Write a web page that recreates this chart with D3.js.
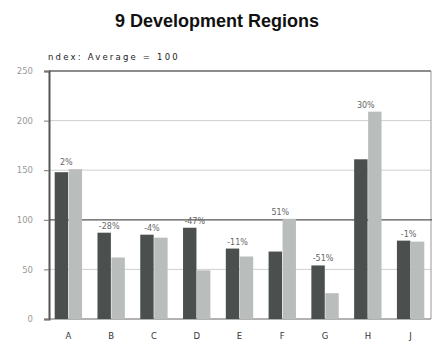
<!DOCTYPE html>
<html><head><meta charset="utf-8">
<script src="https://cdn.jsdelivr.net/npm/d3@7"></script>
<style>body{margin:0;background:#fff}svg{display:block}</style>
</head><body>
<script>
const categories = ["A","B","C","D","E","F","G","H","J"];
const seriesBefore = [148, 87, 85, 92, 71, 68, 54, 161, 79];
const seriesAfter  = [151, 62, 82, 49, 63, 101, 26, 209, 78];
const changeLabels = ["2%","-28%","-4%","-47%","-11%","51%","-51%","30%","-1%"];
const yTicks = [0, 50, 100, 150, 200, 250];
const title = "9 Development Regions";
const subtitle = "ndex:  Average = 100";
const averageValue = 100;

const W = 432, H = 341;
const svg = d3.select("body").append("svg").attr("width", W).attr("height", H);

const y = d3.scaleLinear().domain([0, 250]).range([319, 71]);
const x = d3.scaleBand().domain(categories).range([47, 432]).paddingInner(0.36).paddingOuter(0.18);
const xs = d3.scaleBand().domain([0, 1]).range([0, x.bandwidth()]).paddingInner(0.04);

svg.append("text").attr("x", 217).attr("y", 27).attr("text-anchor", "middle")
  .attr("font-family", "Liberation Sans, Arial, sans-serif").attr("font-weight", "bold")
  .attr("font-size", 18).attr("fill", "#111").text(title);

svg.append("text").attr("x", 48).attr("y", 60)
  .attr("font-family", "DejaVu Sans, sans-serif").attr("font-size", 8.5)
  .attr("letter-spacing", 2.2).attr("fill", "#222").text(subtitle);

// gridlines
svg.append("g").selectAll("line").data(yTicks.filter(t => t > 0 && t !== averageValue && t < 250))
  .join("line").attr("x1", 49).attr("x2", 431).attr("y1", d => y(d)).attr("y2", d => y(d))
  .attr("stroke", "#cfcfcf").attr("stroke-width", 1);

// frame top & right
svg.append("line").attr("x1", 49).attr("x2", 431).attr("y1", y(250)).attr("y2", y(250)).attr("stroke", "#666").attr("stroke-width", 1.5);
svg.append("line").attr("x1", 431).attr("x2", 431).attr("y1", y(250)).attr("y2", y(0)).attr("stroke", "#999").attr("stroke-width", 1);

// average line
svg.append("line").attr("x1", 49).attr("x2", 432).attr("y1", y(averageValue)).attr("y2", y(averageValue))
  .attr("stroke", "#555").attr("stroke-width", 1.3);

// y axis
const yAxis = d3.axisLeft(y).tickValues(yTicks).tickSize(5).tickPadding(11);
const ga = svg.append("g").attr("transform", "translate(49,0)").call(yAxis);
ga.select(".domain").attr("stroke", "#555").attr("stroke-width", 2);
ga.selectAll(".tick line").attr("stroke", "#777");
ga.selectAll(".tick text").attr("fill", "#999").attr("font-family", "DejaVu Sans, sans-serif").attr("font-size", 8.5);

// x axis
const xAxis = d3.axisBottom(x).tickSize(0).tickPadding(14);
const gx = svg.append("g").attr("transform", `translate(0,${y(0)})`).call(xAxis);
gx.select(".domain").attr("d", `M49,0H431`).attr("stroke", "#666").attr("stroke-width", 1);
gx.selectAll(".tick text").attr("fill", "#333").attr("font-family", "DejaVu Sans, sans-serif").attr("font-size", 8.5);

// bars
const rows = categories.map((c, i) => ({c, v: [seriesBefore[i], seriesAfter[i]], label: changeLabels[i]}));
const colors = ["#4b504f", "#b9bdbb"];
const g = svg.append("g");
rows.forEach(r => {
  r.v.forEach((v, j) => {
    g.append("rect").attr("x", x(r.c) + xs(j)).attr("width", xs.bandwidth())
      .attr("y", y(v)).attr("height", y(0) - y(v)).attr("fill", colors[j]);
  });
  g.append("text").attr("x", x(r.c) + x.bandwidth() / 2 - 2).attr("y", y(Math.max(...r.v)) - 4)
    .attr("text-anchor", "middle").attr("font-family", "DejaVu Sans, sans-serif")
    .attr("font-size", 8).attr("fill", "#666").text(r.label);
});
</script>
</body></html>
